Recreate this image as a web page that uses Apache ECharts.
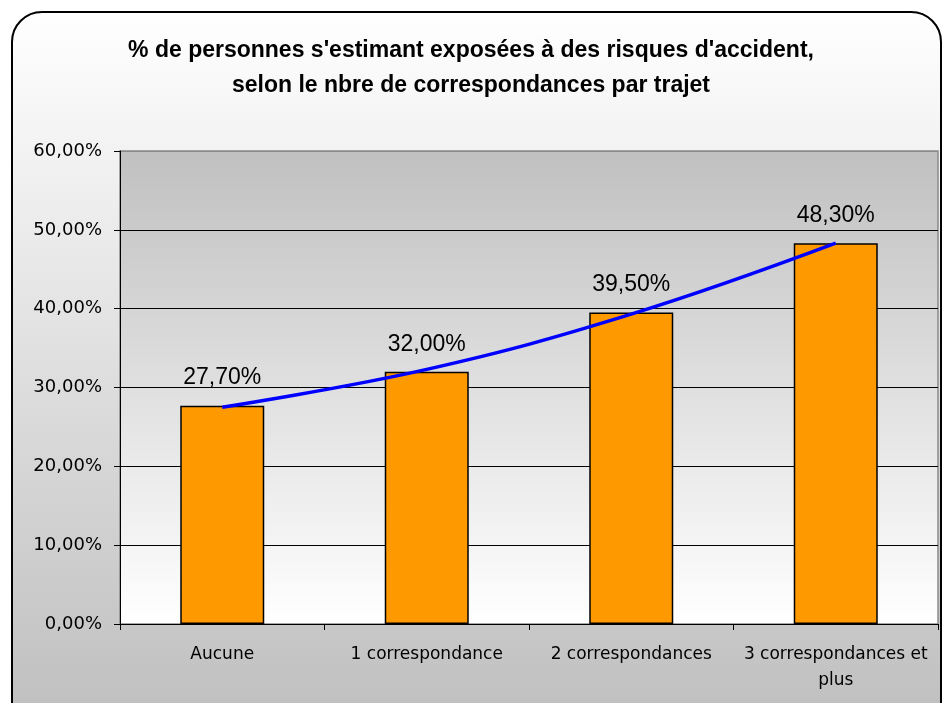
<!DOCTYPE html>
<html>
<head>
<meta charset="utf-8">
<script src="https://cdn.jsdelivr.net/npm/echarts@6/dist/echarts.min.js"></script>
<style>
  html, body { margin: 0; padding: 0; background: #fff; }
  #chart { width: 942px; height: 703px; }
</style>
</head>
<body>
<div id="chart"></div>
<script>
// valeurs
const categories = ['Aucune', '1 correspondance', '2 correspondances', '3 correspondances et\nplus']
const percentValues = [27.7, 32.0, 39.5, 48.3]
// courbe de tendance (lue au centre de chaque barre)
const trendValues = [27.5, 32.3, 39.3, 48.3]
const yTicks = [0, 10, 20, 30, 40, 50, 60]

const fmtPct = (v) => v.toFixed(2).replace('.', ',') + '%'

const myChart = echarts.init(document.getElementById('chart'))

const option = {
  animation: false,
  graphic: [{
    type: 'rect',
    z: -10,
    silent: true,
    shape: { x: 12, y: 12, width: 929, height: 740, r: 30 },
    style: {
      fill: new echarts.graphic.LinearGradient(0, 0, 0, 1, [
        { offset: 0, color: '#ffffff' },
        { offset: 1, color: '#bcbcbc' }
      ]),
      stroke: '#000',
      lineWidth: 2
    }
  }],
  title: {
    text: "% de personnes s'estimant exposées à des risques d'accident,\nselon le nbre de correspondances par trajet",
    left: 'center',
    top: 28,
    textStyle: {
      fontFamily: 'Liberation Sans, Arial, sans-serif',
      fontWeight: 'bold',
      fontSize: 23,
      lineHeight: 35,
      color: '#000'
    }
  },
  grid: {
    left: 120,
    top: 151,
    right: 4,
    bottom: 79,
    show: true,
    borderWidth: 1.5,
    borderColor: '#8a8a8a',
    backgroundColor: new echarts.graphic.LinearGradient(0, 0, 0, 1, [
      { offset: 0, color: '#c0c0c0' },
      { offset: 1, color: '#ffffff' }
    ])
  },
  xAxis: {
    type: 'category',
    data: categories,
    axisLine: { lineStyle: { color: '#000', width: 1 } },
    axisTick: { show: true, length: 6, lineStyle: { color: '#000' } },
    axisLabel: {
      color: '#000',
      fontFamily: 'DejaVu Sans, Tahoma, sans-serif',
      fontSize: 17,
      lineHeight: 26,
      margin: 18,
      interval: 0
    },
    splitLine: { show: false }
  },
  yAxis: {
    type: 'value',
    min: yTicks[0],
    max: yTicks[yTicks.length - 1],
    interval: 10,
    axisLine: { show: true, lineStyle: { color: '#000', width: 1 } },
    axisTick: { show: true, length: 6, lineStyle: { color: '#000' } },
    axisLabel: {
      color: '#000',
      fontFamily: 'DejaVu Sans, Tahoma, sans-serif',
      fontSize: 18,
      margin: 18,
      formatter: (v) => fmtPct(v)
    },
    splitLine: {
      lineStyle: {
        color: ['#000', '#000', '#000', '#000', '#000', '#000', '#8a8a8a'],
        width: 1
      }
    }
  },
  series: [
    {
      type: 'bar',
      data: percentValues,
      barWidth: 84,
      itemStyle: { color: '#ff9900', borderColor: '#000', borderWidth: 1.5 },
      label: {
        show: true,
        position: 'top',
        distance: 16,
        color: '#000',
        fontFamily: 'Liberation Sans, Arial, sans-serif',
        fontSize: 23,
        formatter: (p) => fmtPct(p.value)
      }
    },
    {
      type: 'line',
      data: trendValues,
      smooth: 0.4,
      symbol: 'none',
      z: 5,
      lineStyle: { color: '#0000ff', width: 3.5 }
    }
  ]
}

myChart.setOption(option)
</script>
</body>
</html>
